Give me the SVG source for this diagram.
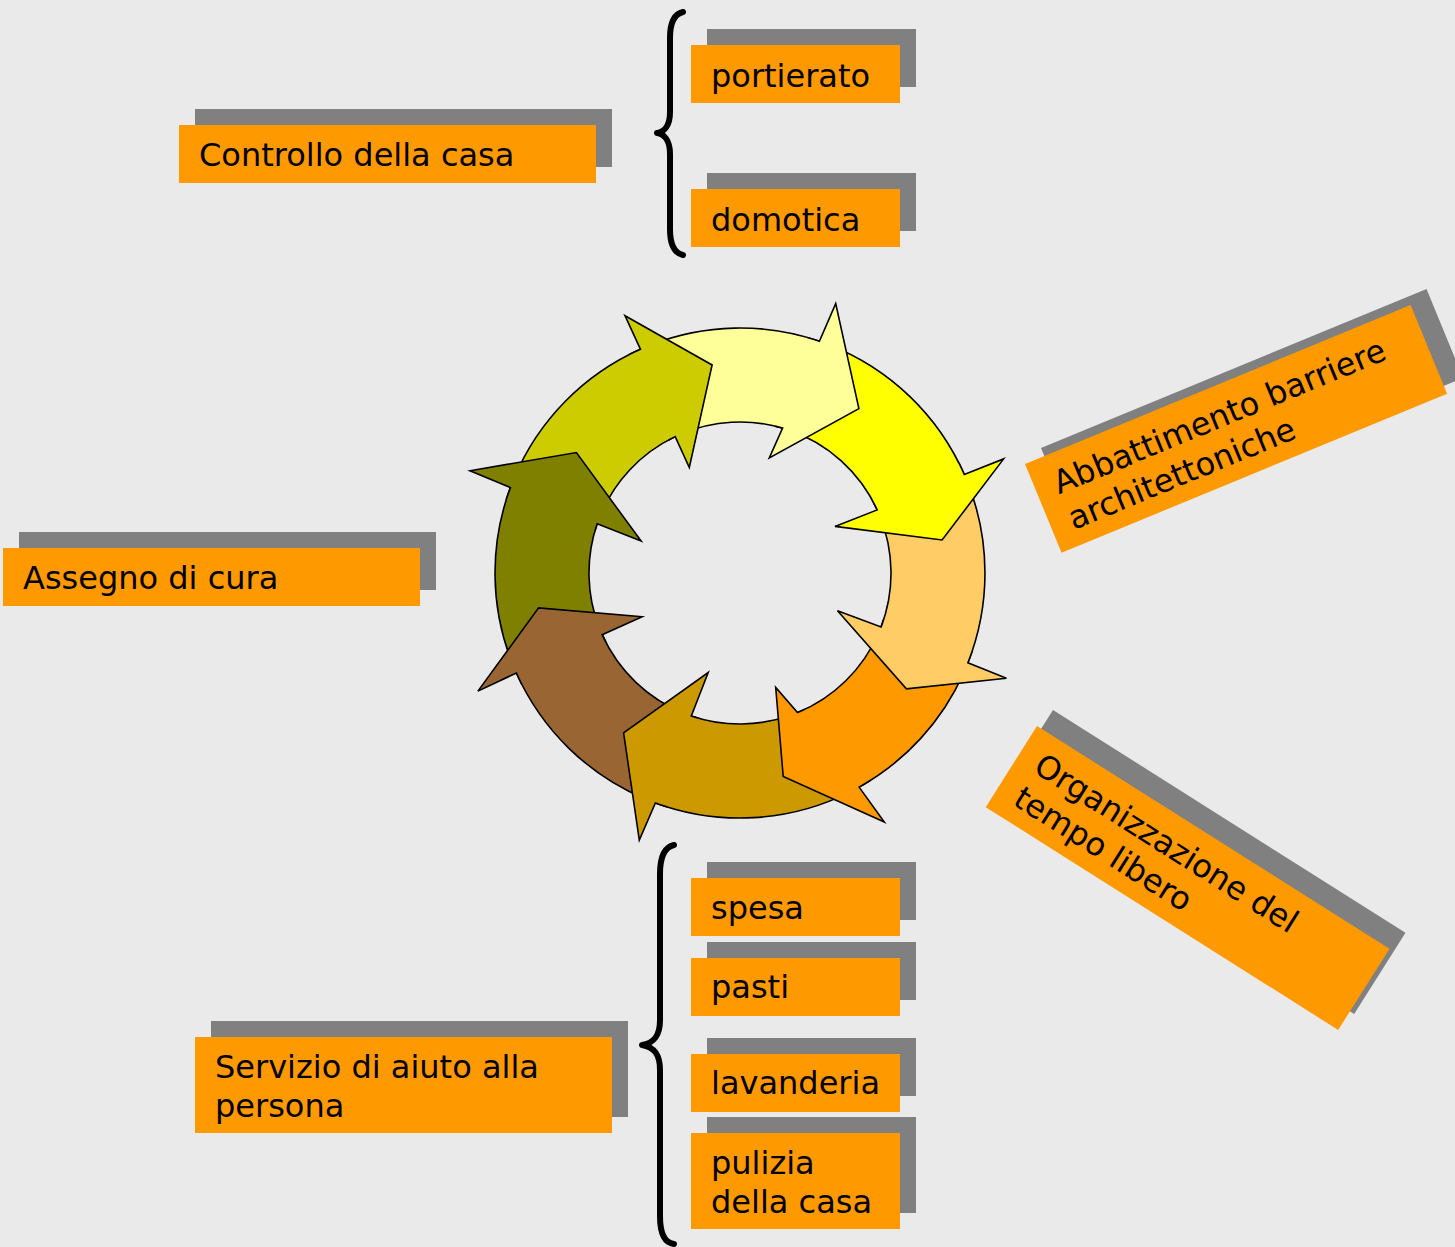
<svg xmlns="http://www.w3.org/2000/svg" width="1455" height="1247" viewBox="0 0 1455 1247">
  <style>
    .bg { fill: #EAEAEA; }
    .shadow { fill: #808080; }
    .box { fill: #FF9900; }
    .label { font-family: "DejaVu Sans", Verdana, "Liberation Sans", sans-serif; font-size: 32px; fill: #000000; }
    .arrow { stroke: #000000; stroke-width: 1.6; stroke-linejoin: miter; }
    .brace { fill: none; stroke: #000000; stroke-width: 6; stroke-linecap: round; stroke-linejoin: round; }
  </style>

  <rect class="bg" x="0" y="0" width="1455" height="1247"/>

  <!-- cycle ring: bodies first, arrowheads on top so each head overlaps the next body -->
  <g id="cycle">
    <g id="cycle-bodies">
      <path class="arrow" fill="#CCCC00" d="M 514.3,477.7 A 245 245 0 0 1 640.4,349.2 L 675.2,436.6 A 151 151 0 0 0 599.5,517.7 Z"/>
      <path class="arrow" fill="#FFFF99" d="M 650.2,345.1 A 245 245 0 0 1 819.4,341.2 L 782.6,428.1 A 151 151 0 0 0 681.2,433.9 Z"/>
      <path class="arrow" fill="#FFFF00" d="M 829.4,344.9 A 245 245 0 0 1 964.3,474.5 L 877.2,509.9 A 151 151 0 0 0 788.9,430.1 Z"/>
      <path class="arrow" fill="#FFCC66" d="M 968.4,484.4 A 245 245 0 0 1 967.9,662.8 L 881.1,626.9 A 151 151 0 0 0 879.8,516.0 Z"/>
      <path class="arrow" fill="#FF9900" d="M 963.8,672.6 A 245 245 0 0 1 859.1,787.1 L 797.5,712.6 A 151 151 0 0 0 878.6,633.0 Z"/>
      <path class="arrow" fill="#CC9900" d="M 849.7,792.1 A 245 245 0 0 1 655.4,802.9 L 691.3,715.9 A 151 151 0 0 0 791.4,715.0 Z"/>
      <path class="arrow" fill="#996633" d="M 645.5,799.0 A 245 245 0 0 1 516.4,673.0 L 602.2,634.7 A 151 151 0 0 0 685.1,713.7 Z"/>
      <path class="arrow" fill="#808000" d="M 512.2,663.2 A 245 245 0 0 1 510.4,487.6 L 597.2,523.8 A 151 151 0 0 0 599.6,628.6 Z"/>
    </g>
    <g id="cycle-heads">
      <path class="arrow" fill="#CCCC00" d="M 628.8,354.7 A 245 245 0 0 1 640.4,349.2 L 625.0,315.7 L 712.1,365.0 L 689.3,467.5 L 675.2,436.6 A 151 151 0 0 0 668.2,440.2"/>
      <path class="arrow" fill="#FFFF99" d="M 807.1,337.4 A 245 245 0 0 1 819.4,341.2 L 835.7,303.6 L 858.9,408.6 L 769.3,457.9 L 782.6,428.1 A 151 151 0 0 0 775.0,426.1"/>
      <path class="arrow" fill="#FFFF00" d="M 958.9,462.9 A 245 245 0 0 1 964.3,474.5 L 1003.6,458.9 L 942.1,540.0 L 835.0,526.4 L 877.2,509.9 A 151 151 0 0 0 873.7,502.8"/>
      <path class="arrow" fill="#FFCC66" d="M 972.3,650.7 A 245 245 0 0 1 967.9,662.8 L 1006.4,678.2 L 906.4,688.9 L 837.5,610.7 L 881.1,626.9 A 151 151 0 0 0 883.7,619.4"/>
      <path class="arrow" fill="#FF9900" d="M 870.2,780.5 A 245 245 0 0 1 859.1,787.1 L 884.3,822.1 L 783.2,776.4 L 775.7,687.5 L 797.5,712.6 A 151 151 0 0 0 804.8,709.4"/>
      <path class="arrow" fill="#CC9900" d="M 667.6,807.0 A 245 245 0 0 1 655.4,802.9 L 639.3,840.0 L 623.6,732.9 L 708.2,672.5 L 691.3,715.9 A 151 151 0 0 0 698.9,718.3"/>
      <path class="arrow" fill="#996633" d="M 521.9,684.6 A 245 245 0 0 1 516.4,673.0 L 477.9,691.1 L 538.6,607.9 L 642.1,616.8 L 602.2,634.7 A 151 151 0 0 0 605.6,641.8"/>
      <path class="arrow" fill="#808000" d="M 506.2,499.7 A 245 245 0 0 1 510.4,487.6 L 470.0,470.7 L 576.4,452.5 L 641.1,541.1 L 597.2,523.8 A 151 151 0 0 0 594.8,531.4"/>
    </g>
  </g>

  <!-- curly braces grouping the sub-items -->
  <g id="connectors">
    <path class="brace" d="M 683,12 C 674,14 670,22 670,38 L 670,112 C 670,126 664,132 657,133 C 664,134 670,140 670,154 L 670,229 C 670,245 674,253 683,255"/>
    <path class="brace" d="M 674,845 C 665,847 660,856 660,874 L 660,1020 C 660,1036 654,1043 642,1045 C 654,1047 660,1054 660,1070 L 660,1216 C 660,1234 665,1243 674,1244"/>
  </g>

  <g id="controllo-casa">
    <rect class="shadow" x="195" y="109" width="417" height="58"/>
    <rect class="box" x="179" y="125" width="417" height="58"/>
    <text class="label" x="199" y="166">Controllo della casa</text>
  </g>

  <g id="portierato">
    <rect class="shadow" x="707" y="29" width="209" height="58"/>
    <rect class="box" x="691" y="45" width="209" height="58"/>
    <text class="label" x="711" y="87">portierato</text>
  </g>

  <g id="domotica">
    <rect class="shadow" x="707" y="173" width="209" height="58"/>
    <rect class="box" x="691" y="189" width="209" height="58"/>
    <text class="label" x="711" y="231">domotica</text>
  </g>

  <g id="assegno-cura">
    <rect class="shadow" x="19" y="532" width="417" height="58"/>
    <rect class="box" x="3" y="548" width="417" height="58"/>
    <text class="label" x="23" y="589">Assegno di cura</text>
  </g>

  <g id="abbattimento-barriere">
    <rect class="shadow" x="0" y="0" width="417" height="96" transform="translate(1041,448) rotate(-22.4)"/>
    <g transform="translate(1025,464) rotate(-22.4)">
      <rect class="box" x="0" y="0" width="417" height="96"/>
      <text class="label" x="20" y="41">Abbattimento barriere</text>
      <text class="label" x="20" y="79.5">architettoniche</text>
    </g>
  </g>

  <g id="organizzazione-tempo-libero">
    <rect class="shadow" x="0" y="0" width="417" height="96" transform="translate(1053,710) rotate(32.3)"/>
    <g transform="translate(1037,726) rotate(32.3)">
      <rect class="box" x="0" y="0" width="417" height="96"/>
      <text class="label" x="20" y="41">Organizzazione del</text>
      <text class="label" x="20" y="79.5">tempo libero</text>
    </g>
  </g>

  <g id="servizio-aiuto">
    <rect class="shadow" x="211" y="1021" width="417" height="96"/>
    <rect class="box" x="195" y="1037" width="417" height="96"/>
    <text class="label" x="215" y="1078">Servizio di aiuto alla</text>
    <text class="label" x="215" y="1116.5">persona</text>
  </g>

  <g id="spesa">
    <rect class="shadow" x="707" y="862" width="209" height="58"/>
    <rect class="box" x="691" y="878" width="209" height="58"/>
    <text class="label" x="711" y="919">spesa</text>
  </g>

  <g id="pasti">
    <rect class="shadow" x="707" y="942" width="209" height="58"/>
    <rect class="box" x="691" y="958" width="209" height="58"/>
    <text class="label" x="711" y="998">pasti</text>
  </g>

  <g id="lavanderia">
    <rect class="shadow" x="707" y="1038" width="209" height="58"/>
    <rect class="box" x="691" y="1054" width="209" height="58"/>
    <text class="label" x="711" y="1094">lavanderia</text>
  </g>

  <g id="pulizia-casa">
    <rect class="shadow" x="707" y="1117" width="209" height="96"/>
    <rect class="box" x="691" y="1133" width="209" height="96"/>
    <text class="label" x="711" y="1174">pulizia</text>
    <text class="label" x="711" y="1212.5">della casa</text>
  </g>
</svg>
